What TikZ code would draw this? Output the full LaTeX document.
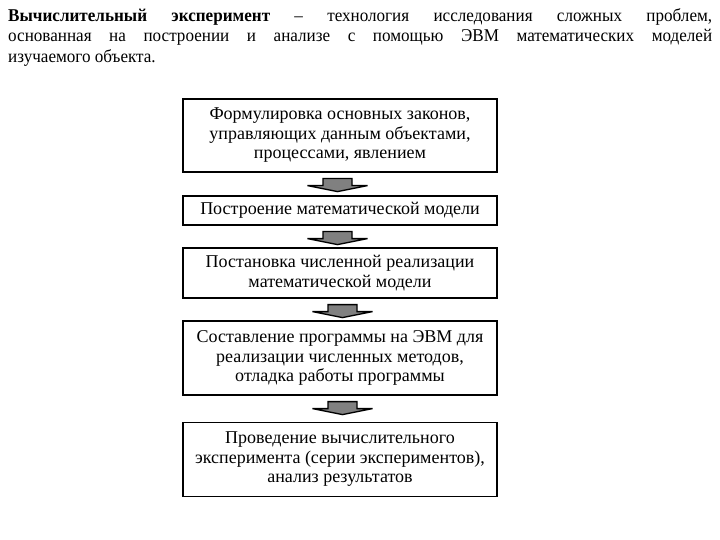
\documentclass[tikz,border=0pt]{standalone}
\usepackage{fontspec}
\setmainfont{Liberation Serif}
\newfontfamily\titlefont[FakeStretch=0.95,BoldFeatures={FakeStretch=0.95}]{Liberation Serif}
\usetikzlibrary{calc}
\tikzset{
  stage/.style={draw=black, line width=1.2pt, minimum width=314pt, inner sep=2pt, align=center, font=\fontsize{18}{19.5}\selectfont, fill=white},
  blk/.style={draw=black, fill=gray, line width=1.3pt, line join=miter}
}
\newcommand\blkarrow[3]{%
  \draw[blk] ($(#1.south)+(#3-14.5,6)$) -- ++(29,0) -- ++(0,7) -- ++(15.5,0) -- ++(-30,6) -- ++(-30,-6) -- ++(15.5,0) -- cycle;}
\begin{document}
\begin{tikzpicture}[x=1pt,y=-1pt]
\useasboundingbox (0,0) rectangle (720,540);
\node[anchor=north west, inner sep=0pt, text width=704pt, align=justify, font=\titlefont\fontsize{18}{20.5}\selectfont] (title) at (8,7.2)
  {\rule{0pt}{14pt}\textbf{Вычислительный эксперимент} – технология исследования сложных проблем,\linebreak основанная на построении и анализе с помощью ЭВМ математических моделей\linebreak изучаемого объекта.};
\node[stage, minimum height=73pt] (b1) at (340,135.5) {Формулировка основных законов,\\управляющих данным объектами,\\процессами, явлением};
\node[stage, minimum height=29pt] (b2) at (340,210.5) {Построение математической модели};
\node[stage, minimum height=50pt] (b3) at (340,273) {Постановка численной реализации\\математической модели};
\node[stage, minimum height=74pt] (b4) at (340,358) {Составление программы на ЭВМ для\\реализации численных методов,\\отладка работы программы};
\node[stage, minimum height=74pt] (b5) at (340,459.5) {Проведение вычислительного\\эксперимента (серии экспериментов),\\анализ результатов};
\blkarrow{b1}{b2}{-2.5}
\blkarrow{b2}{b3}{-2.5}
\blkarrow{b3}{b4}{2.5}
\blkarrow{b4}{b5}{2.5}
\end{tikzpicture}
\end{document}
